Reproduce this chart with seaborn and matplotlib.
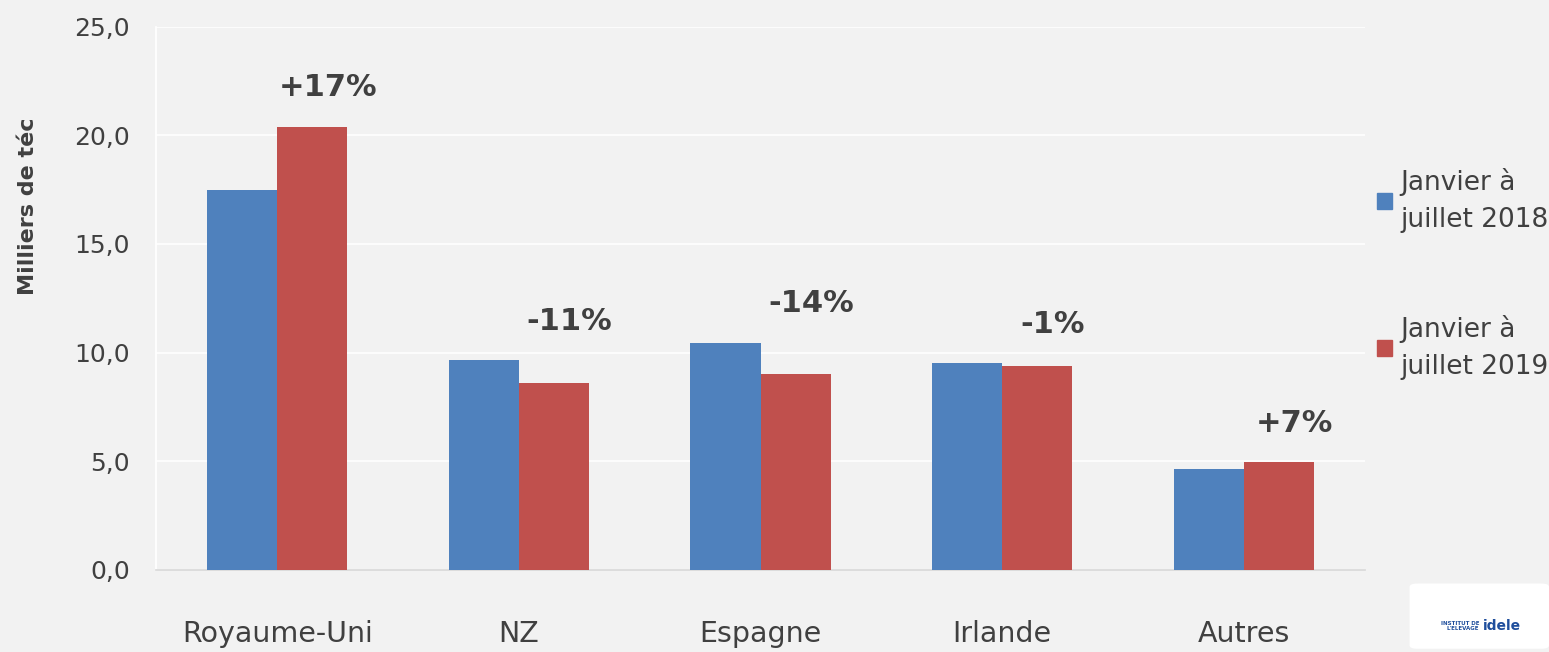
import matplotlib
matplotlib.use('Agg')
import matplotlib.pyplot as plt
import matplotlib.patches as mpatches
import seaborn as sns
import pandas as pd
import numpy as np

# data (milliers de téc)
pays = ['Royaume-Uni', 'NZ', 'Espagne', 'Irlande', 'Autres']
val_2018 = [17.5, 9.65, 10.45, 9.5, 4.65]
val_2019 = [20.4, 8.6, 9.0, 9.4, 4.95]
variations = ['+17%', '-11%', '-14%', '-1%', '+7%']
periodes = ['Janvier à\njuillet 2018', 'Janvier à\njuillet 2019']

df = pd.DataFrame({
    'pays': pays * 2,
    'periode': [periodes[0]] * len(pays) + [periodes[1]] * len(pays),
    'valeur': val_2018 + val_2019,
})

sns.set_theme(style='white')
plt.rcParams['font.family'] = ['DejaVu Sans']

bg = '#f2f2f2'
txt = '#404040'
colors = ['#4f81bd', '#c0504d']

fig = plt.figure(figsize=(15.49, 6.52), dpi=100, facecolor=bg)
ax = fig.add_axes([0.101, 0.126, 0.780, 0.833])
ax.set_facecolor(bg)

sns.barplot(data=df, x='pays', y='valeur', hue='periode', palette=colors,
            width=0.58, saturation=1, linewidth=0, ax=ax, legend=False, zorder=3)

ax.set_ylim(0, 25)
ax.set_xlim(-0.5, len(pays) - 0.5)
ax.set_yticks(np.arange(0, 26, 5))
ax.set_yticklabels([f'{v:.1f}'.replace('.', ',') for v in np.arange(0, 26, 5)],
                   fontsize=18, color=txt)
ax.tick_params(axis='x', which='major', length=0, labelsize=20.5, labelcolor=txt, pad=36)
ax.tick_params(axis='y', length=0, pad=19)
ax.set_xticks(np.arange(-0.5, len(pays), 1), minor=True)
ax.tick_params(axis='x', which='minor', length=8, color='white', width=1.2)
ax.grid(axis='y', color='white', linewidth=1.2, zorder=0)
for s in ['top', 'right']:
    ax.spines[s].set_visible(False)
ax.spines['left'].set_color('white')
ax.spines['bottom'].set_color('#d9d9d9')
ax.set_xlabel('')
ax.set_ylabel('Milliers de téc', fontsize=16, fontweight='bold', color=txt)
ax.yaxis.set_label_coords(-0.098, 0.67)

# variation labels above each group
for i, lab in enumerate(variations):
    top = max(val_2018[i], val_2019[i])
    ax.text(i + 0.21, top + 1.8, lab, ha='center', va='center',
            fontsize=22, fontweight='bold', color=txt)

handles = [mpatches.Patch(color=c, label=p) for c, p in zip(colors, periodes)]
leg = fig.legend(handles=handles, loc='upper left', bbox_to_anchor=(0.889, 0.742),
                 frameon=False, fontsize=19, labelcolor=txt, labelspacing=3.1,
                 handlelength=0.55, handleheight=0.55, handletextpad=0.35,
                 borderpad=0, borderaxespad=0)
for t in leg.get_texts():
    t.set_linespacing(1.55)

# logo
fig.patches.append(mpatches.FancyBboxPatch((0.915, 0.01), 0.08, 0.09, boxstyle='round,pad=0.005',
                                           transform=fig.transFigure, facecolor='white',
                                           edgecolor='none'))
fig.text(0.955, 0.04, "INSTITUT DE\nL'ELEVAGE", fontsize=4, fontweight='bold',
         color='#1f4e9c', ha='right', va='center')
fig.text(0.957, 0.04, 'idele', fontsize=10, fontweight='bold', color='#1f4e9c',
         ha='left', va='center')

fig.savefig('out.png', dpi=100, facecolor=bg)
